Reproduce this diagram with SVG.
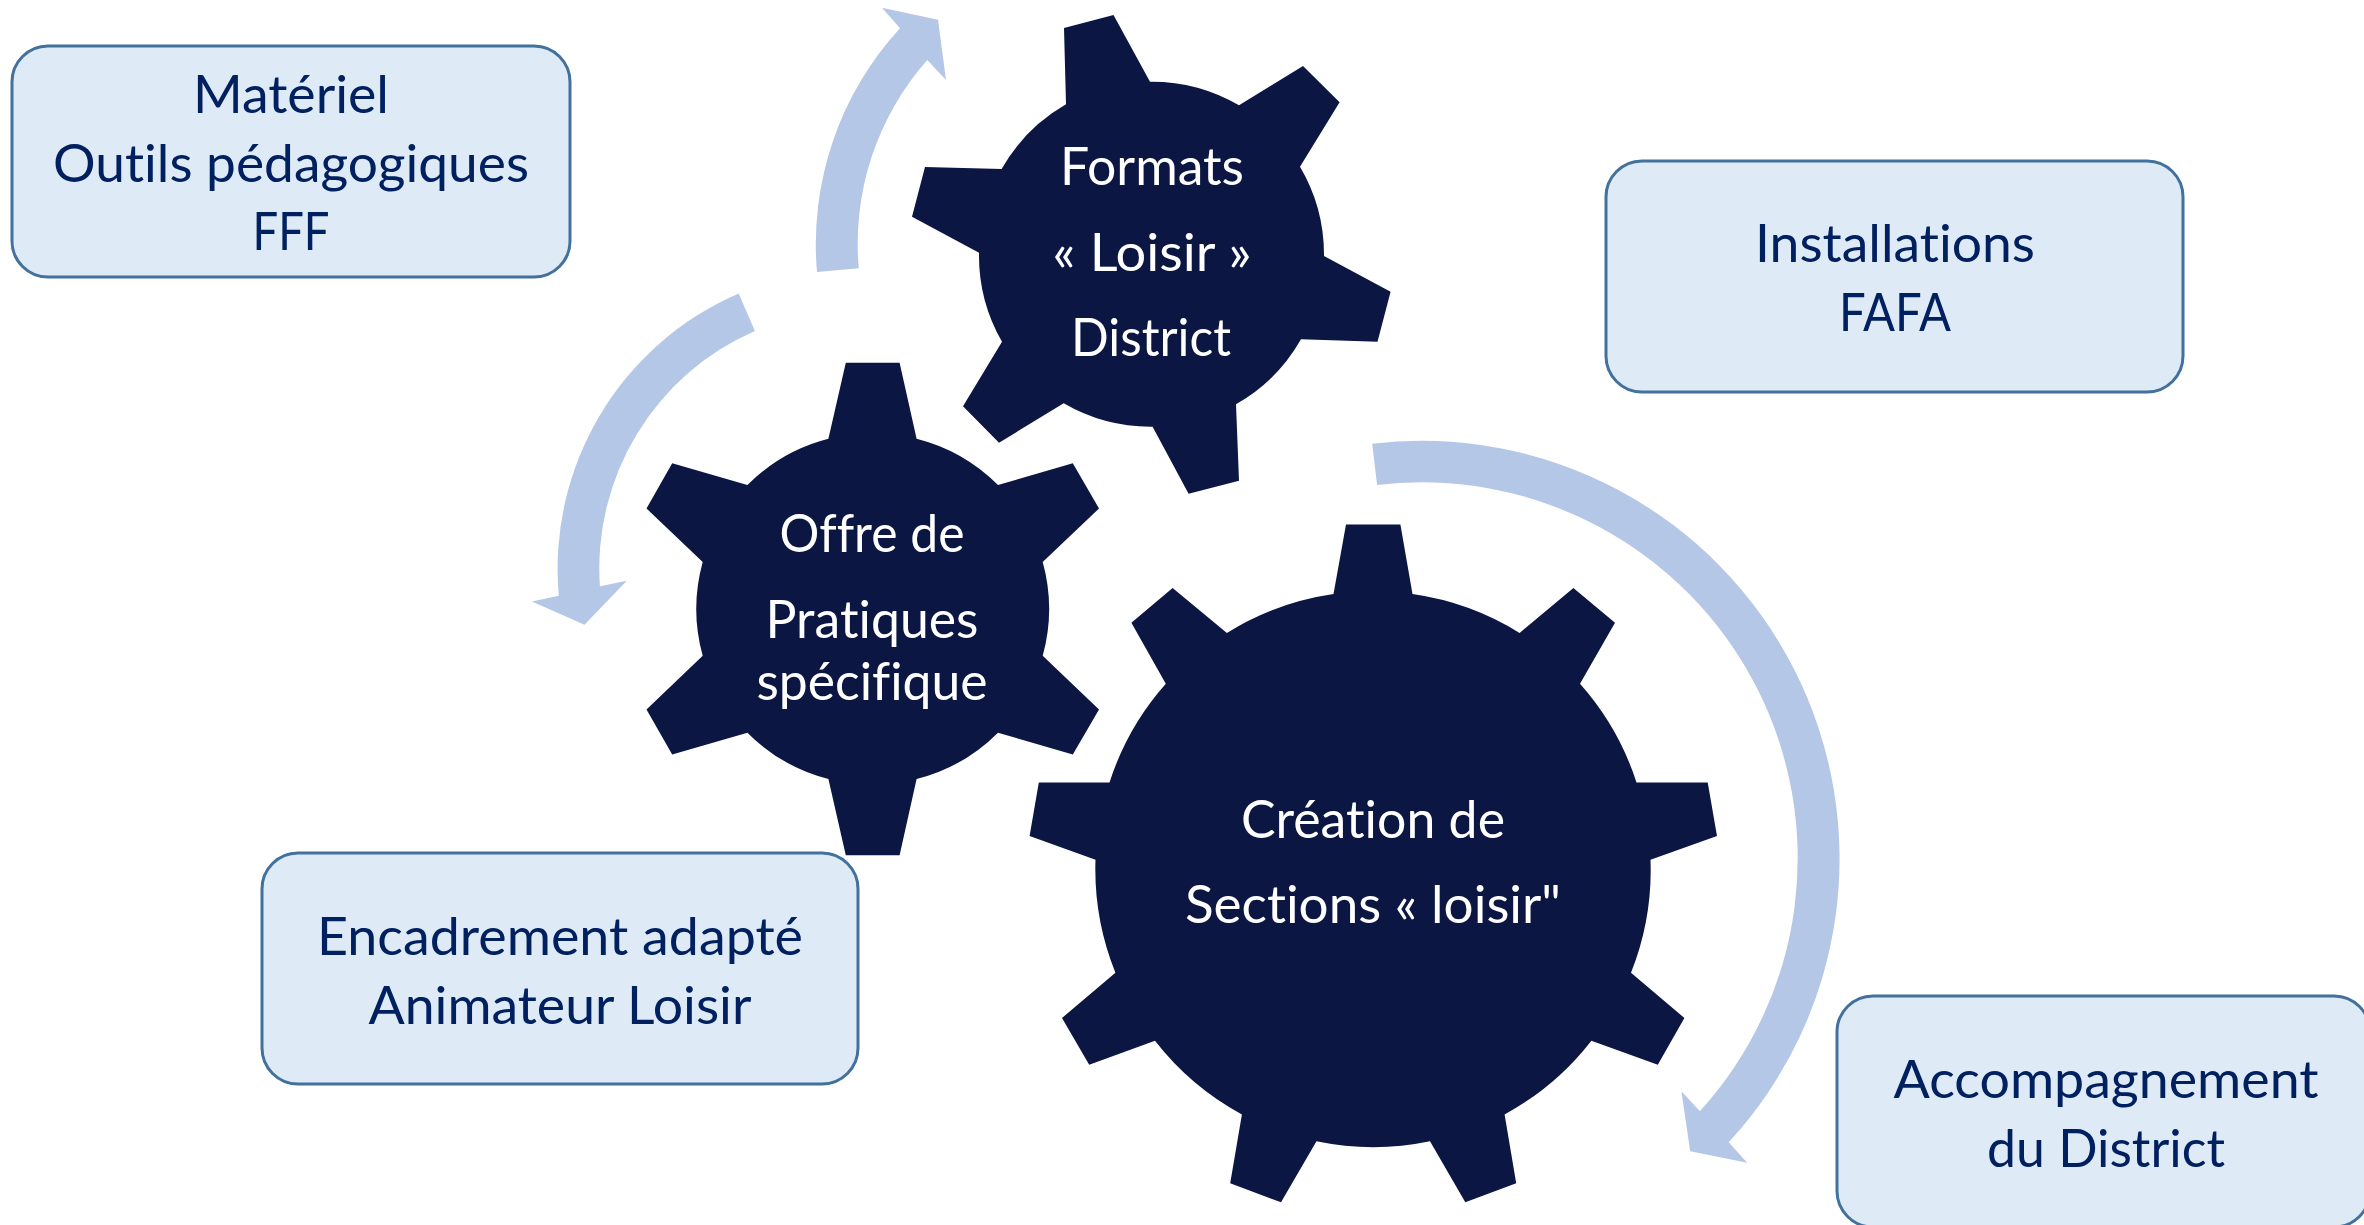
<svg xmlns="http://www.w3.org/2000/svg" width="2364" height="1225" viewBox="0 0 2364 1225">
<style>
.gear{fill:#0B1643}
.arrow{fill:#B4C7E7}
.box{fill:#DEEAF6;stroke:#41719C;stroke-width:3}
text{font-family:"Lato","Carlito","Liberation Sans",sans-serif;font-size:52px;text-anchor:middle;font-variant-ligatures:none}
.w{fill:#FFFFFF}
.d{fill:#002060;font-size:53px}
</style>
<rect width="2364" height="1225" fill="#FFFFFF"/>
<g id="connectors">
<path class="arrow" d="M817 272L858.8 268.3A277 277 0 0 1 927.3 60L946 80L938 19.7L882 7.7L900 28.3A319 319 0 0 0 817 272Z"/>
<path class="arrow" d="M738.7 293.4L754.9 330.9A259 259 0 0 0 599.9 586.2L626.8 580.8L584.5 624.8L531.9 601.5L558.8 595.7A300 300 0 0 1 738.7 293.4Z"/>
<path class="arrow" d="M1372.2 443.7L1377.1 485A376 376 0 0 1 1699.9 1111.3L1681.4 1091.3L1690.2 1151.3L1747.2 1162.7L1728.7 1142.3A418 418 0 0 0 1372.2 443.7Z"/>
</g>
<g id="gear-formats">
<path class="gear" d="M1064 28L1113.5 15L1150 81.7A173 173 0 0 1 1239 105.3L1303 66L1339.6 102.3L1300 166.7A173 173 0 0 1 1324 256L1390.6 291.7L1377.5 341.7L1301 339.3A173 173 0 0 1 1236 404.3L1239 480.7L1188.6 493.7L1152.6 426.7A173 173 0 0 1 1063.7 403.3L999 442.7L963 406.3L1002 341.7A173 173 0 0 1 979 252.7L912 216.7L925 167L1001.6 169A173 173 0 0 1 1066 104.3Z"/>
<text class="w" x="1152" y="185" textLength="184" lengthAdjust="spacingAndGlyphs">Formats</text>
<text class="w" x="1152" y="271" textLength="199" lengthAdjust="spacingAndGlyphs">« Loisir »</text>
<text class="w" x="1151" y="356" textLength="160" lengthAdjust="spacingAndGlyphs">District</text>
</g>
<g id="gear-offre">
<path class="gear" d="M845.8 362.7L899.6 362.7L916.6 438.8A176 176 0 0 1 998 485.1L1072.8 463.3L1099 508.5L1042.7 562A176 176 0 0 1 1042.7 655.8L1099 709.4L1072.8 754.6L998 732.7A176 176 0 0 1 916.6 779L899.6 855.2L845.8 855.2L828.4 779A176 176 0 0 1 747.4 732.7L672.2 754.6L646.5 709.4L702.7 655.8A176 176 0 0 1 702.7 562L646.5 508.5L672.2 463.3L747.4 485.1A176 176 0 0 1 828.4 438.8Z"/>
<text class="w" x="872" y="552" textLength="185" lengthAdjust="spacingAndGlyphs">Offre de</text>
<text class="w" x="872" y="638" textLength="213" lengthAdjust="spacingAndGlyphs">Pratiques</text>
<text class="w" x="872" y="700" textLength="231" lengthAdjust="spacingAndGlyphs">spécifique</text>
</g>
<g id="gear-creation">
<path class="gear" d="M1346 524.5L1400.4 524.5L1412.5 594A277 277 0 0 1 1519.6 632.9L1573.4 588L1615 622.7L1580 683.8A277 277 0 0 1 1636.5 782.4L1707.7 782.4L1717 836L1650.5 859.7A277 277 0 0 1 1631 972.7L1684.4 1018L1657.8 1064.8L1591.4 1040.7A277 277 0 0 1 1504.6 1114.4L1516.2 1183.3L1465.3 1202.3L1430 1141.2A277 277 0 0 1 1316.5 1141.2L1281 1202.3L1230.2 1183.3L1241.9 1114.4A277 277 0 0 1 1155 1040.7L1089.2 1064.8L1062 1018L1115.4 972.7A277 277 0 0 1 1095.5 859.7L1029.6 836L1038.8 782.4L1109.5 782.4A277 277 0 0 1 1165.8 683.8L1131.4 622.7L1172.6 588L1226.9 632.9A277 277 0 0 1 1333.5 594Z"/>
<text class="w" x="1373" y="838" textLength="264" lengthAdjust="spacingAndGlyphs">Création de</text>
<text class="w" x="1373" y="923" textLength="376" lengthAdjust="spacingAndGlyphs">Sections « loisir"</text>
</g>
<g id="box-materiel">
<rect class="box" x="12" y="46" width="558" height="231" rx="36"/>
<text class="d" x="291" y="113" textLength="196" lengthAdjust="spacingAndGlyphs">Matériel</text>
<text class="d" x="291" y="182" textLength="476" lengthAdjust="spacingAndGlyphs">Outils pédagogiques</text>
<text class="d" x="291" y="250" textLength="77" lengthAdjust="spacingAndGlyphs">FFF</text>
</g>
<g id="box-installations">
<rect class="box" x="1606" y="161" width="577" height="231" rx="36"/>
<text class="d" x="1895" y="262" textLength="280" lengthAdjust="spacingAndGlyphs">Installations</text>
<text class="d" x="1895" y="331" textLength="112" lengthAdjust="spacingAndGlyphs">FAFA</text>
</g>
<g id="box-encadrement">
<rect class="box" x="262" y="853" width="596" height="231" rx="36"/>
<text class="d" x="560" y="955" textLength="486" lengthAdjust="spacingAndGlyphs">Encadrement adapté</text>
<text class="d" x="560" y="1024" textLength="383" lengthAdjust="spacingAndGlyphs">Animateur Loisir</text>
</g>
<g id="box-accompagnement">
<rect class="box" x="1837" y="996" width="533" height="231" rx="36"/>
<text class="d" x="2106" y="1098" textLength="425" lengthAdjust="spacingAndGlyphs">Accompagnement</text>
<text class="d" x="2106" y="1167" textLength="238" lengthAdjust="spacingAndGlyphs">du District</text>
</g>
</svg>
